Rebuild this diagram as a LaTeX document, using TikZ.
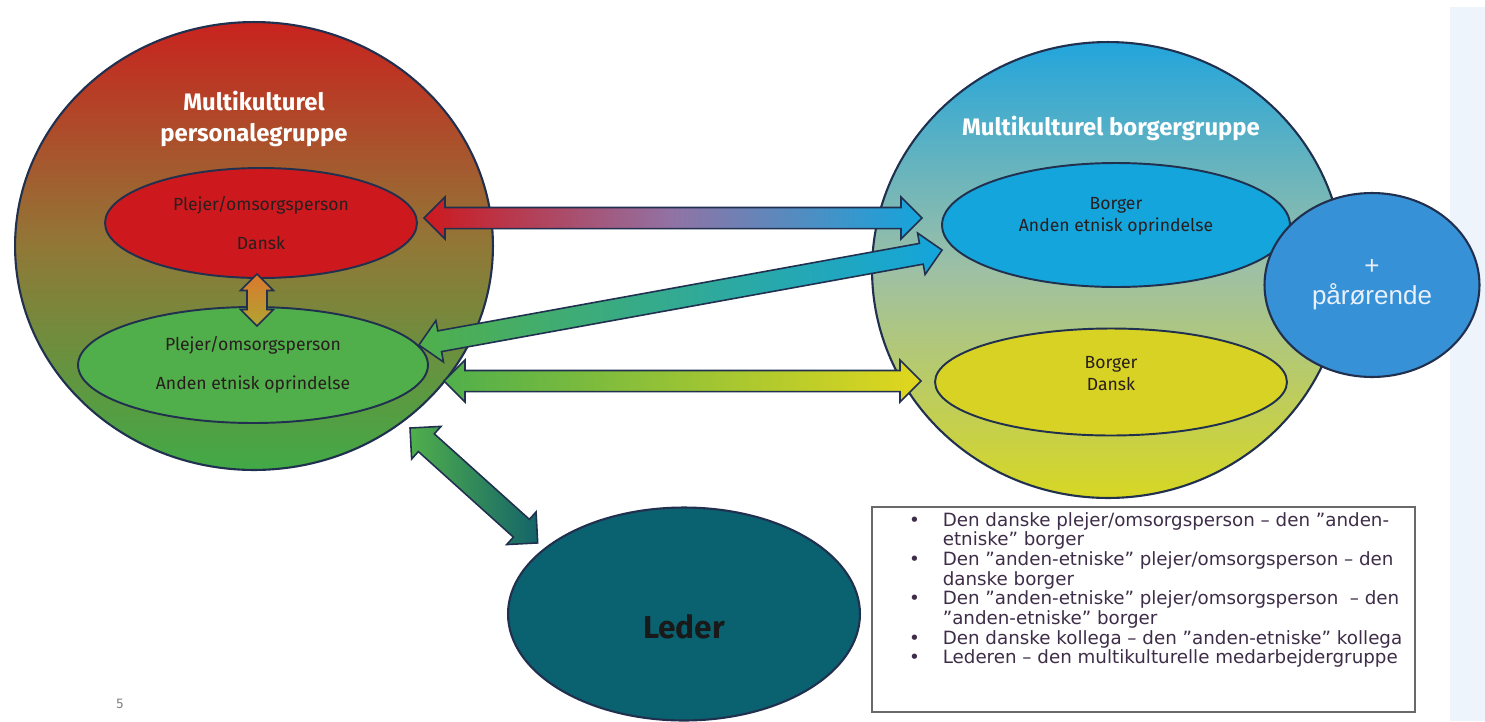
\documentclass[tikz,border=0pt]{standalone}
\usepackage{fontspec}
\setmainfont{Fira Sans}
\newfontfamily\legendfont{DejaVu Sans}
\newfontfamily\arialfont{Liberation Sans}
\usetikzlibrary{shapes.geometric,calc}

\definecolor{navy}{RGB}{32,48,78}
\definecolor{leftTop}{RGB}{200,35,30}
\definecolor{leftMid}{RGB}{145,120,55}
\definecolor{leftBot}{RGB}{65,170,70}
\definecolor{rightTop}{RGB}{35,165,220}
\definecolor{rightMid}{RGB}{158,192,165}
\definecolor{rightBot}{RGB}{215,215,35}
\definecolor{redfill}{RGB}{205,25,30}
\definecolor{greenfill}{RGB}{80,175,75}
\definecolor{bluefill}{RGB}{20,165,220}
\definecolor{yellowfill}{RGB}{215,210,35}
\definecolor{relfill}{RGB}{55,145,215}
\definecolor{reltext}{RGB}{232,240,250}
\definecolor{lederfill}{RGB}{10,98,112}
\definecolor{membertext}{RGB}{40,30,30}
\definecolor{legendtext}{RGB}{62,45,72}
\definecolor{boxgray}{RGB}{105,105,105}
\definecolor{stripblue}{RGB}{238,244,251}

\tikzset{
  groupshape/.style={ellipse, draw=navy, line width=1.2pt, inner sep=0pt},
  memberellipse/.style={ellipse, draw=navy, line width=1.1pt, inner sep=0pt, align=center,
    text=membertext, font=\fontsize{10}{12.5}\selectfont},
  membertext/.style={align=center, text=membertext, font=\fontsize{10}{12.5}\selectfont},
  grouptitle/.style={align=center, text=white, font=\bfseries\fontsize{13.6}{18}\selectfont},
  arrowline/.style={draw=navy, line width=0.9pt, line join=miter},
}

% double block arrow: from, to, half shaft, half head, fill
\newcommand\blockarrow[5]{%
  \coordinate (ba-a) at (#1);
  \coordinate (ba-b) at (#2);
  \coordinate (ba-p) at ($(ba-a)!#4!(ba-b)$);
  \coordinate (ba-q) at ($(ba-b)!#4!(ba-a)$);
  \path[arrowline,#5] (ba-a)
    -- ($(ba-p)!#4!90:(ba-b)$) -- ($(ba-p)!#3!90:(ba-b)$)
    -- ($(ba-q)!#3!-90:(ba-a)$) -- ($(ba-q)!#4!-90:(ba-a)$)
    -- (ba-b)
    -- ($(ba-q)!#4!90:(ba-a)$) -- ($(ba-q)!#3!90:(ba-a)$)
    -- ($(ba-p)!#3!-90:(ba-b)$) -- ($(ba-p)!#4!-90:(ba-b)$)
    -- cycle;
}

\begin{document}
\begin{tikzpicture}[x=0.02cm, y=-0.02cm]
  \useasboundingbox (0,0) rectangle (1485,721);
  \fill[stripblue] (1450,7) rectangle (1485,721);

  % staff side
  \node[groupshape, top color=leftTop, bottom color=leftBot, middle color=leftMid,
        minimum width=9.56cm, minimum height=8.96cm] (personale) at (254,246) {};
  \node[grouptitle] (ptitle) at (254,119) {Multikulturel\\personalegruppe};
  \node[memberellipse, fill=redfill, minimum width=6.24cm, minimum height=2.2cm] (dansk) at (261,223)
       {Plejer/omsorgsperson\\[10pt]Dansk};
  \node[memberellipse, fill=greenfill, minimum width=7cm, minimum height=2.32cm] (anden) at (253,365)
       {Plejer/omsorgsperson\\[10pt]Anden etnisk oprindelse};

  % citizen side
  \node[groupshape, top color=rightTop, bottom color=rightBot, middle color=rightMid,
        minimum width=9.44cm, minimum height=9.12cm] (borger) at (1108,270) {};
  \node[grouptitle] (btitle) at (1111,128) {Multikulturel borgergruppe};
  \node[memberellipse, fill=bluefill, minimum width=6.96cm, minimum height=2.48cm] (bAnden) at (1116,225) {};
  \node[membertext] (bAndenText) at ($(bAnden.center)+(0,-9)$) {Borger\\Anden etnisk oprindelse};
  \node[memberellipse, fill=yellowfill, minimum width=7.04cm, minimum height=2.14cm] (bDansk) at (1111,382) {};
  \node[membertext] (bDanskText) at ($(bDansk.center)+(0,-8)$) {Borger\\Dansk};
  \node[groupshape, fill=relfill, minimum width=4.3cm, minimum height=3.68cm, align=center, text=reltext,
        font=\arialfont\fontsize{14.8}{17}\selectfont] (paarende) at (1372,285) {+\\pårørende};

  % leader
  \node[groupshape, fill=lederfill, minimum width=7.04cm, minimum height=4.26cm] (leder) at (684,614) {};
  \node[font=\bfseries\fontsize{18}{20}\selectfont, text=black!90] (ledername) at ($(leder.center)+(0,13)$) {Leder};

  % arrows
  \coordinate (a1) at ($(dansk.east)+(6,-5)$);
  \coordinate (a2) at ($(bAnden.west)+(-19,-7)$);
  \blockarrow{a1}{a2}{6pt}{12pt}{left color=redfill, right color=bluefill, middle color={rgb,255:red,145;green,115;blue,165}}
  \coordinate (b1) at ($(anden.east)+(-10,-20)$);
  \coordinate (b2) at ($(bAnden.west)+(1,25)$);
  \blockarrow{b1}{b2}{6pt}{12pt}{left color=greenfill, right color=bluefill}
  \coordinate (c1) at ($(anden.east)+(15,16)$);
  \coordinate (c2) at ($(bDansk.west)+(-13,-1)$);
  \blockarrow{c1}{c2}{6pt}{12pt}{left color=greenfill, right color={rgb,255:red,225;green,215;blue,30}}
  \coordinate (d1) at ($(dansk.south)+(-4,-5)$);
  \coordinate (d2) at ($(anden.north)+(4,20)$);
  \blockarrow{d1}{d2}{5.7pt}{9.4pt}{top color={rgb,255:red,220;green,120;blue,45}, bottom color={rgb,255:red,175;green,165;blue,50}}
  \coordinate (e1) at ($(personale.south)+(156,-43)$);
  \coordinate (e2) at ($(leder.150)+(-18,3)$);
  \blockarrow{e1}{e2}{6.8pt}{12.5pt}{left color=greenfill, right color={rgb,255:red,20;green,100;blue,105}}

  % legend
  \node[draw=boxgray, line width=1.4pt, fill=white, minimum width=10.86cm, minimum height=4.1cm] (legend) at (1143.5,609.5) {};
  \node[anchor=north west, inner sep=0pt, text=legendtext, font=\legendfont\fontsize{10.4}{11}\selectfont] (items)
       at ($(legend.north west)+(38,6)$) {%
    \begin{tabular}{@{}l@{\hspace{13pt}}l@{}}
      \textbullet & Den danske plejer/omsorgsperson – den ”anden-\\
                  & etniske” borger\\
      \textbullet & Den ”anden-etniske” plejer/omsorgsperson – den\\
                  & danske borger\\
      \textbullet & Den ”anden-etniske” plejer/omsorgsperson \ – den\\
                  & ”anden-etniske” borger\\
      \textbullet & Den danske kollega – den ”anden-etniske” kollega\\
      \textbullet & Lederen – den multikulturelle medarbejdergruppe
    \end{tabular}};

  \node[text=gray, font=\fontsize{8}{9}\selectfont] (pagenum) at (120,704) {5};
\end{tikzpicture}
\end{document}
